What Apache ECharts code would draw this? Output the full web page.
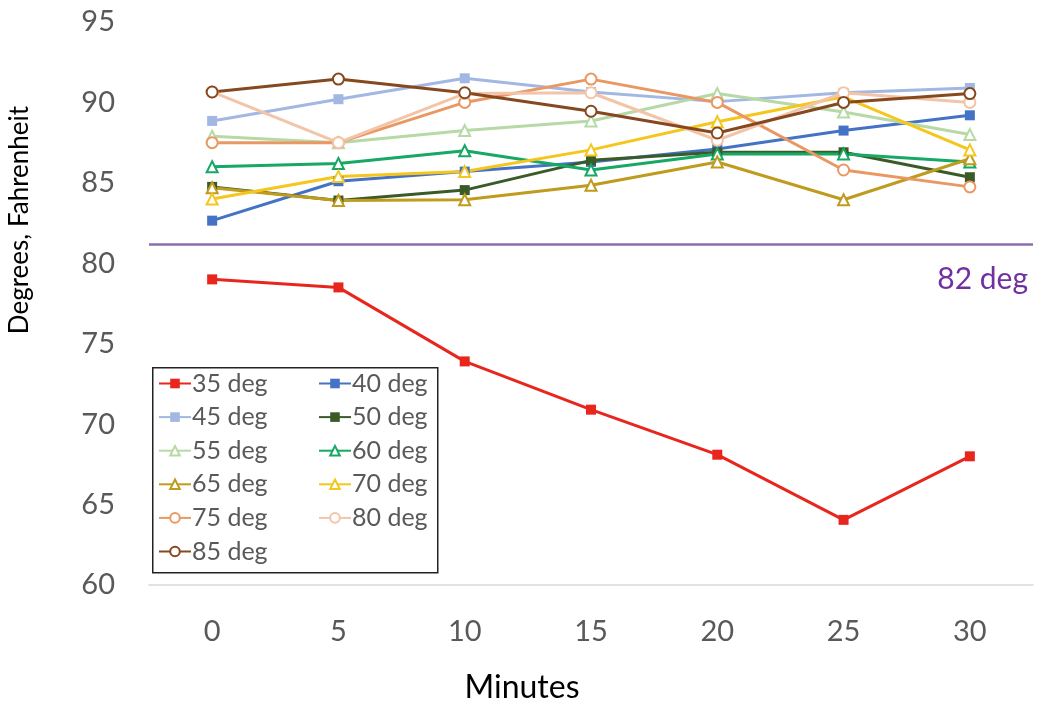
<!DOCTYPE html>
<html><head><meta charset="utf-8">
<script src="https://cdn.jsdelivr.net/npm/echarts@6/dist/echarts.min.js"></script>
<style>html,body{margin:0;padding:0;background:#fff}#c{width:1050px;height:715px}</style>
</head><body><div id="c"></div>
<script>
const minutes = ['0','5','10','15','20','25','30'];
const names = ['35 deg','40 deg','45 deg','50 deg','55 deg','60 deg','65 deg','70 deg','75 deg','80 deg','85 deg'];
const s35 = [79.0, 78.5, 73.9, 70.9, 68.1, 64.05, 68.0];
const s40 = [82.65, 85.1, 85.7, 86.3, 87.1, 88.25, 89.2];
const s45 = [88.85, 90.2, 91.5, 90.65, 90.05, 90.6, 90.9];
const s50 = [84.75, 83.9, 84.55, 86.4, 86.9, 86.9, 85.35];
const s55 = [87.9, 87.5, 88.25, 88.85, 90.55, 89.4, 88.0];
const s60 = [86.0, 86.2, 87.0, 85.8, 86.8, 86.8, 86.3];
const s65 = [84.7, 83.9, 83.95, 84.85, 86.3, 83.95, 86.5];
const s70 = [84.0, 85.4, 85.7, 87.05, 88.8, 90.35, 87.05];
const s75 = [87.5, 87.5, 90.0, 91.45, 90.0, 85.8, 84.75];
const s80 = [90.65, 87.5, 90.55, 90.6, 87.65, 90.6, 90.0];
const s85 = [90.65, 91.45, 90.6, 89.45, 88.1, 90.0, 90.55];
const refValue = 81.2;
const refLabel = '82 deg';
const yTitle = 'Degrees, Fahrenheit';
const xTitle = 'Minutes';

const seriesData = [s35,s40,s45,s50,s55,s60,s65,s70,s75,s80,s85];
const colors = ['#e8261d','#4472c4','#a2b8e2','#3a5b27','#b6d9a6','#16a864','#bf9b1e','#f5c61c','#ea9863','#f3c5a8','#86481f'];
const symbols = ['rect','rect','rect','rect','triangle','triangle','triangle','triangle','circle','circle','circle'];
const font = 'Lato, "Open Sans", sans-serif';

const series = seriesData.map((d,i)=>({
  name: names[i], type:'line', data:d,
  symbol: symbols[i], symbolSize: symbols[i]==='rect'?10:11,
  lineStyle:{color:colors[i], width:3},
  itemStyle:{color: symbols[i]==='rect'?colors[i]:'#fff', borderColor:colors[i], borderWidth:symbols[i]==='rect'?0:2}
}));
series[0].markLine = {
  silent:true, symbol:'none',
  lineStyle:{color:'#8a6eb0', width:2.5, type:'solid'},
  label:{show:true, formatter:refLabel, position:'insideEndBottom', color:'#7030a0', fontSize:30, fontFamily:font, distance:[5,20]},
  data:[{yAxis:refValue}]
};

const legendCommon = {
  orient:'vertical', itemGap:8.6, itemWidth:32, itemHeight:12,
  textStyle:{color:'#595959', fontSize:25, lineHeight:24, fontFamily:font, padding:[0,0,0,-4]}
};
const chart = echarts.init(document.getElementById('c'));
chart.setOption({
  animation:false,
  color: colors,
  grid:{left:149, right:17, top:22, bottom:130},
  xAxis:{type:'category', data:minutes, boundaryGap:true,
    name:xTitle, nameLocation:'middle', nameGap:87,
    nameTextStyle:{color:'#000', fontSize:32, fontFamily:font, padding:[0,138,0,0]},
    axisLine:{lineStyle:{color:'#d9d9d9', width:1.5}}, axisTick:{show:false},
    axisLabel:{color:'#595959', fontSize:29, fontFamily:font, margin:32}},
  yAxis:{type:'value', min:60, max:95, interval:5,
    axisLine:{show:false}, axisTick:{show:false}, splitLine:{show:false},
    axisLabel:{color:'#595959', fontSize:29, fontFamily:font, margin:34}},
  legend:[
    Object.assign({}, legendCommon, {left:153, top:366, data:['35 deg','45 deg','55 deg','65 deg','75 deg','85 deg']}),
    Object.assign({}, legendCommon, {left:313, top:366, data:['40 deg','50 deg','60 deg','70 deg','80 deg']})
  ],
  graphic:[
    {type:'rect', left:152, top:367, shape:{width:285, height:205}, style:{fill:'#fff', stroke:'#222', lineWidth:1.5}, z:-1},
    {type:'text', x:20, y:220, rotation:Math.PI/2, style:{text:yTitle, fill:'#000', fontSize:26, fontFamily:font, align:'center', verticalAlign:'middle'}}
  ],
  series: series
});
</script></body></html>
